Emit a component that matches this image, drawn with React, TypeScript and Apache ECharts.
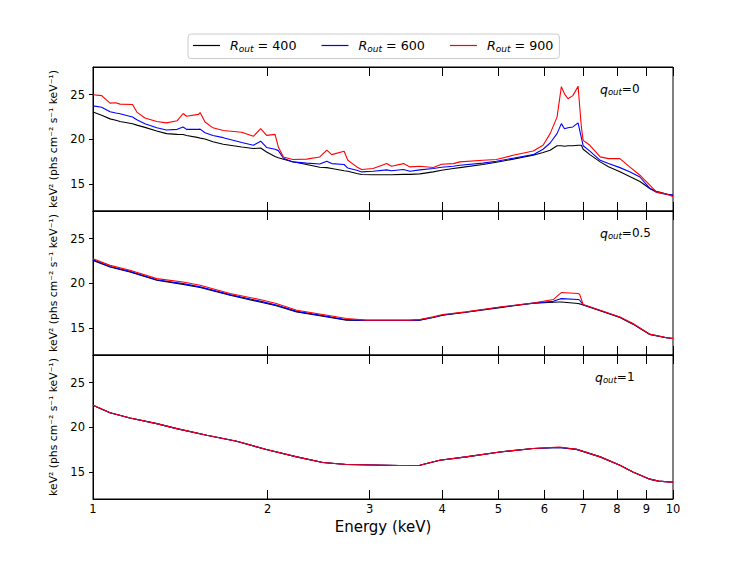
import React, { useEffect, useRef } from 'react';
import * as echarts from 'echarts';

const FONT = 'DejaVu Sans';

// Energy grids (keV)
const energyP1 = [1.0, 1.035, 1.07, 1.095, 1.113, 1.17, 1.19, 1.229, 1.288, 1.339, 1.397, 1.43, 1.45, 1.52, 1.53, 1.56, 1.61, 1.677, 1.805, 1.89, 1.946, 1.992, 2.06, 2.087, 2.13, 2.21, 2.335, 2.46, 2.53, 2.58, 2.71, 2.75, 2.85, 2.905, 3.04, 3.21, 3.27, 3.43, 3.52, 3.66, 3.86, 3.99, 4.18, 4.29, 4.7, 4.96, 5.3, 5.74, 5.97, 6.14, 6.31, 6.42, 6.5, 6.59, 6.72, 6.86, 6.95, 7.0, 7.19, 7.49, 7.74, 8.1, 8.42, 8.77, 9.12, 9.36, 9.75, 10.0];
const p1R400 = [23.06, 22.7, 22.3, 22.15, 22.0, 21.75, 21.6, 21.35, 20.94, 20.65, 20.57, 20.55, 20.45, 20.2, 20.15, 20.05, 19.75, 19.46, 19.15, 18.98, 19.05, 18.6, 18.1, 17.95, 17.79, 17.5, 17.2, 16.9, 16.85, 16.75, 16.5, 16.45, 16.2, 16.08, 16.05, 16.05, 16.05, 16.1, 16.1, 16.15, 16.37, 16.55, 16.75, 16.85, 17.2, 17.45, 17.8, 18.23, 18.55, 18.8, 19.3, 19.3, 19.24, 19.3, 19.3, 19.35, 19.35, 18.9, 18.3, 17.49, 16.95, 16.4, 15.85, 15.3, 14.52, 14.2, 13.9, 13.77];
const p1R600 = [23.75, 23.6, 23.1, 22.95, 22.88, 22.5, 22.2, 21.75, 21.3, 21.05, 21.13, 21.4, 21.13, 21.13, 21.15, 20.75, 20.45, 20.2, 19.65, 19.35, 19.8, 19.1, 18.9, 18.75, 17.9, 17.49, 17.35, 17.25, 17.56, 17.3, 17.2, 16.8, 16.55, 16.37, 16.45, 16.6, 16.5, 16.64, 16.45, 16.6, 16.75, 16.9, 17.0, 17.12, 17.35, 17.56, 17.9, 18.3, 18.9, 19.6, 20.65, 21.77, 21.2, 21.3, 21.4, 21.85, 20.2, 19.3, 18.7, 17.67, 17.3, 16.85, 16.4, 15.8, 14.52, 14.1, 13.85, 13.77];
const p1R900 = [25.0, 24.9, 24.06, 24.1, 23.95, 23.9, 23.06, 22.4, 22.0, 21.85, 22.1, 22.9, 22.6, 22.8, 23.0, 21.95, 21.3, 21.0, 20.8, 20.35, 21.2, 20.46, 20.57, 19.16, 18.04, 17.75, 17.8, 18.04, 18.8, 18.3, 18.68, 17.67, 16.93, 16.64, 16.75, 17.3, 17.0, 17.3, 16.93, 17.0, 16.86, 17.23, 17.3, 17.49, 17.67, 17.75, 18.23, 18.71, 19.35, 20.65, 22.5, 25.9, 25.1, 24.55, 24.9, 25.96, 21.4, 19.9, 19.35, 18.05, 17.86, 17.86, 16.93, 16.0, 14.89, 14.14, 13.89, 13.6];

const energyP2 = [1.0, 1.07, 1.158, 1.288, 1.43, 1.53, 1.723, 1.94, 2.07, 2.245, 2.49, 2.735, 2.96, 3.52, 3.66, 3.86, 4.01, 4.4, 5.03, 5.74, 6.22, 6.34, 6.42, 6.86, 6.9, 7.0, 7.49, 8.1, 8.53, 9.12, 9.75, 10.0];
const p2R400 = [22.58, 21.83, 21.28, 20.35, 19.9, 19.54, 18.68, 17.93, 17.5, 16.82, 16.34, 15.9, 15.85, 15.85, 15.9, 16.2, 16.45, 16.78, 17.3, 17.78, 17.9, 17.93, 17.93, 17.75, 17.72, 17.6, 16.95, 16.2, 15.45, 14.3, 13.92, 13.85];
const p2R600 = [22.65, 21.9, 21.35, 20.42, 19.98, 19.62, 18.75, 18.02, 17.58, 16.88, 16.4, 15.95, 15.87, 15.87, 15.93, 16.22, 16.48, 16.8, 17.33, 17.8, 18.0, 18.2, 18.3, 18.2, 18.15, 17.62, 16.97, 16.22, 15.48, 14.31, 13.92, 13.85];
const p2R900 = [22.77, 22.02, 21.47, 20.54, 20.16, 19.8, 18.87, 18.2, 17.75, 17.0, 16.53, 16.08, 15.9, 15.9, 15.97, 16.26, 16.53, 16.82, 17.37, 17.82, 18.2, 18.7, 18.98, 18.87, 18.8, 17.64, 17.0, 16.26, 15.52, 14.33, 13.92, 13.85];

const energyP3 = [1.0, 1.07, 1.158, 1.288, 1.394, 1.571, 1.769, 1.99, 2.245, 2.49, 2.735, 3.38, 3.66, 3.96, 4.4, 5.03, 5.74, 6.37, 6.82, 7.49, 8.1, 8.53, 9.12, 9.44, 10.0];
const p3R400 = [22.47, 21.65, 21.05, 20.43, 19.87, 19.12, 18.46, 17.53, 16.71, 16.08, 15.86, 15.75, 15.78, 16.34, 16.71, 17.26, 17.64, 17.76, 17.55, 16.71, 15.78, 15.03, 14.22, 14.0, 13.88];
const p3R600 = [22.47, 21.65, 21.05, 20.43, 19.87, 19.12, 18.46, 17.53, 16.71, 16.08, 15.86, 15.75, 15.78, 16.34, 16.71, 17.26, 17.64, 17.76, 17.55, 16.71, 15.78, 15.03, 14.22, 14.0, 13.88];
const p3R900 = [22.47, 21.65, 21.05, 20.43, 19.87, 19.12, 18.46, 17.53, 16.71, 16.08, 15.86, 15.75, 15.78, 16.34, 16.71, 17.26, 17.64, 17.82, 17.56, 16.71, 15.78, 15.03, 14.22, 14.0, 13.88];

const rOutValues = ['400', '600', '900'];
const seriesColors = ['#000000', '#0000ff', '#ff0000'];
const qOutLabels = ['0', '0.5', '1'];
const xTicks = [1, 2, 3, 4, 5, 6, 7, 8, 9, 10];
const yTicks = [15, 20, 25];
const yName = 'keV\u00B2 (phs cm\u207B\u00B2 s\u207B\u00B9 keV\u207B\u00B9)';
const xName = 'Energy (keV)';

const panels = [
  { energy: energyP1, values: [p1R400, p1R600, p1R900] },
  { energy: energyP2, values: [p2R400, p2R600, p2R900] },
  { energy: energyP3, values: [p3R400, p3R600, p3R900] },
];

export default function App() {
  const ref = useRef<HTMLDivElement>(null);
  useEffect(() => {
    if (!ref.current) return;
    const chart = echarts.init(ref.current, undefined, { renderer: 'svg' });
    const L = 93, W = 580, H = 144;
    const tops = [67, 211, 355];

    const grids = tops.map((t) => ({
      left: L, top: t, width: W, height: H,
      show: true, borderColor: '#000', borderWidth: 1, backgroundColor: 'transparent',
      containLabel: false, outerBoundsMode: 'none',
    }));

    const xAxes: any[] = [];
    tops.forEach((_, i) => {
      const isBottom = i === 2;
      xAxes.push({
        gridIndex: i, type: 'log', logBase: 10, min: 1, max: 10, position: 'bottom',
        axisLine: { show: true, lineStyle: { color: '#000', width: 1 } },
        axisTick: { show: true, inside: true, length: 9, customValues: xTicks, lineStyle: { color: '#000', width: 1 } },
        minorTick: { show: false },
        splitLine: { show: false },
        axisLabel: { show: isBottom, customValues: xTicks, color: '#000', fontSize: 11.5, fontFamily: FONT, margin: 4, formatter: (v: number) => String(Math.round(v)) },
        name: isBottom ? xName : '',
        nameLocation: 'middle', nameGap: 20,
        nameTextStyle: { color: '#000', fontSize: 15, fontFamily: FONT },
      });
      xAxes.push({
        gridIndex: i, type: 'log', logBase: 10, min: 1, max: 10, position: 'top',
        axisLine: { show: true, lineStyle: { color: '#000', width: 1 } },
        axisTick: { show: true, inside: true, length: 9, customValues: xTicks, lineStyle: { color: '#000', width: 1 } },
        splitLine: { show: false },
        axisLabel: { show: false },
      });
    });

    const yAxes = tops.map((_, i) => ({
      gridIndex: i, type: 'value', min: 12, max: 28.1,
      axisLine: { show: true, lineStyle: { color: '#000', width: 1 } },
      axisTick: { show: true, inside: false, length: 4, customValues: yTicks, lineStyle: { color: '#000', width: 1 } },
      axisLabel: { customValues: yTicks, color: '#000', fontSize: 11.5, fontFamily: FONT, margin: 8 },
      splitLine: { show: false },
      name: yName, nameLocation: 'middle', nameRotate: 90, nameGap: 31,
      nameTextStyle: { color: '#000', fontSize: 10.8, fontFamily: FONT },
    }));

    const series: any[] = [];
    panels.forEach((p, i) => {
      p.values.forEach((vals, k) => {
        series.push({
          type: 'line',
          name: 'Rout = ' + rOutValues[k],
          xAxisIndex: i * 2, yAxisIndex: i,
          data: p.energy.map((e, j) => [e, vals[j]]),
          symbol: 'none', showSymbol: false,
          lineStyle: { color: seriesColors[k], width: 1.1 },
          itemStyle: { color: seriesColors[k] },
          z: 2 + k,
        });
      });
    });

    const graphic = qOutLabels.map((q, i) => ({
      type: 'text',
      x: i === 2 ? 595 : 600,
      y: tops[i] + 22,
      style: {
        text: `{q|q}{o|out}{e|=${q}}`,
        verticalAlign: 'middle',
        fill: '#000',
        fontFamily: FONT,
        fontSize: 12,
        rich: {
          q: { fontSize: 12.5, fontStyle: 'italic', fontFamily: FONT, fill: '#000' },
          o: { fontSize: 8.5, fontStyle: 'italic', fontFamily: FONT, fill: '#000', padding: [6, 0, 0, 0] },
          e: { fontSize: 12, fontFamily: FONT, fill: '#000' },
        },
      },
    }));

    chart.setOption({
      animation: false,
      backgroundColor: '#fff',
      legend: {
        show: true,
        orient: 'horizontal',
        left: 188, top: 34,
        data: rOutValues.map((v, k) => ({
          name: 'Rout = ' + v,
          icon: 'rect',
          itemStyle: { color: seriesColors[k], borderWidth: 0, opacity: 1 },
        })),
        itemWidth: 27, itemHeight: 1.2, itemGap: 25,
        padding: [5, 6, 5, 5],
        borderColor: '#cccccc', borderWidth: 1, borderRadius: 3,
        backgroundColor: '#fff',
        formatter: (name: string) => `{r|R}{s|out}{t| = ${name.split('= ')[1]}}`,
        textStyle: {
          color: '#000', fontFamily: FONT, fontSize: 12.7,
          rich: {
            r: { fontSize: 12.7, fontStyle: 'italic', fontFamily: FONT, color: '#000', padding: [0, 0, 0, 5] },
            s: { fontSize: 9, fontStyle: 'italic', fontFamily: FONT, color: '#000', padding: [7, 0, 0, 0] },
            t: { fontSize: 12.7, fontFamily: FONT, color: '#000' },
          },
        },
      },
      grid: grids,
      xAxis: xAxes,
      yAxis: yAxes,
      series,
      graphic,
    } as any);
    return () => chart.dispose();
  }, []);
  return <div ref={ref} style={{ position: 'absolute', left: 0, top: 0, width: 747, height: 561 }} />;
}
